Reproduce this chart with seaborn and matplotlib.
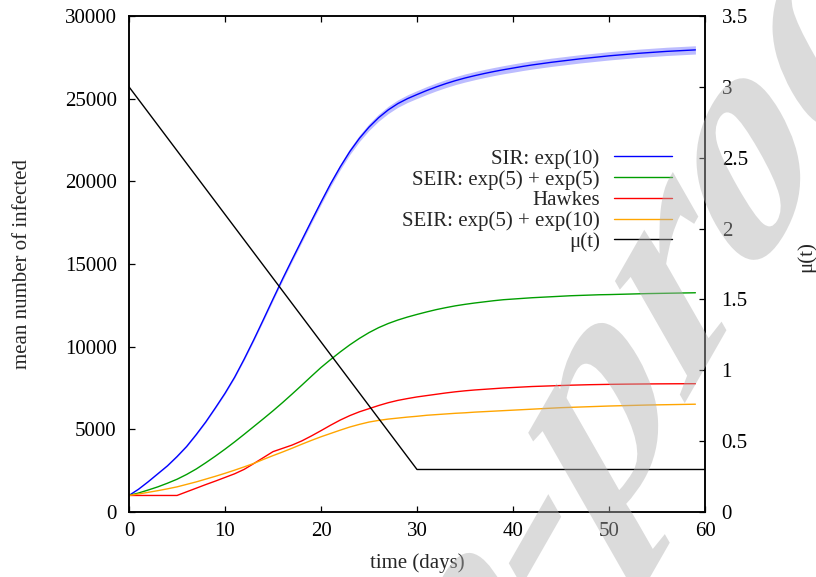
import numpy as np
import pandas as pd
import matplotlib
matplotlib.use("Agg")
import matplotlib.pyplot as plt
import seaborn as sns
from matplotlib.textpath import TextPath
from matplotlib.font_manager import FontProperties
from matplotlib.patches import PathPatch
from matplotlib.transforms import Affine2D
from matplotlib.ticker import FuncFormatter

# ---------------- data ----------------
days = list(range(60))

sir = [1000, 1380, 1830, 2310, 2790, 3350, 3960, 4680, 5450, 6300,
       7180, 8150, 9250, 10420, 11640, 12880, 14100, 15280, 16440, 17600,
       18740, 19850, 20870, 21800, 22600, 23280, 23850, 24320, 24700, 25000,
       25250, 25490, 25710, 25910, 26090, 26250, 26390, 26520, 26640, 26750,
       26850, 26950, 27040, 27120, 27200, 27270, 27340, 27410, 27470, 27530,
       27590, 27640, 27690, 27740, 27780, 27820, 27860, 27890, 27920, 27950]

sir_halfwidth = [0, 5, 10, 15, 20, 25, 30, 35, 40, 45,
                 50, 60, 70, 80, 90, 100, 110, 120, 130, 140,
                 150, 160, 170, 180, 190, 200, 210, 220, 225, 230,
                 235, 240, 240, 240, 240, 245, 245, 245, 245, 245,
                 250, 250, 250, 250, 250, 250, 250, 250, 250, 250,
                 250, 250, 250, 250, 250, 250, 250, 250, 250, 250]

seir55 = [1000, 1150, 1330, 1520, 1740, 1980, 2270, 2600, 2980, 3380,
          3800, 4240, 4700, 5170, 5640, 6120, 6620, 7140, 7670, 8210,
          8740, 9220, 9680, 10110, 10500, 10850, 11150, 11400, 11610, 11790,
          11950, 12100, 12240, 12360, 12470, 12560, 12640, 12710, 12780, 12840,
          12880, 12920, 12960, 12990, 13020, 13050, 13080, 13100, 13120, 13140,
          13150, 13165, 13180, 13195, 13210, 13220, 13230, 13240, 13250, 13260]

hawkes = [1000, 1000, 1000, 1000, 1000, 1000, 1220, 1440, 1660, 1870,
          2090, 2310, 2580, 2930, 3290, 3650, 3850, 4050, 4300, 4600,
          4920, 5250, 5560, 5830, 6060, 6250, 6440, 6610, 6750, 6860,
          6960, 7040, 7120, 7200, 7270, 7330, 7380, 7420, 7460, 7500,
          7530, 7560, 7590, 7610, 7630, 7650, 7670, 7685, 7700, 7710,
          7720, 7728, 7735, 7740, 7745, 7750, 7753, 7756, 7758, 7760]

seir510 = [1000, 1090, 1190, 1290, 1400, 1520, 1670, 1820, 1990, 2160,
           2340, 2530, 2730, 2940, 3180, 3410, 3630, 3860, 4100, 4330,
           4550, 4750, 4950, 5140, 5300, 5440, 5540, 5620, 5680, 5740,
           5790, 5850, 5890, 5930, 5970, 6000, 6040, 6070, 6100, 6130,
           6160, 6190, 6220, 6250, 6280, 6310, 6330, 6350, 6370, 6390,
           6410, 6425, 6440, 6455, 6470, 6480, 6490, 6500, 6510, 6520]

mu_days = [0, 30, 60]
mu_vals = [3.0, 0.3, 0.3]

labels = ["SIR: exp(10)", "SEIR: exp(5) + exp(5)", "Hawkes", "SEIR: exp(5) + exp(10)"]
colors = ["#0000ff", "#009e00", "#ff0000", "#ffa500"]
mu_label = "\u03bc(t)"

x_ticks = [0, 10, 20, 30, 40, 50, 60]
y_ticks = [0, 5000, 10000, 15000, 20000, 25000, 30000]
y2_ticks = [0, 0.5, 1, 1.5, 2, 2.5, 3, 3.5]

# ---------------- style ----------------
sns.set_style("ticks")
plt.rcParams["font.family"] = ["Liberation Serif", "DejaVu Serif"]
plt.rcParams["axes.linewidth"] = 1.1

W, H = 816, 577
fig = plt.figure(figsize=(W / 100, H / 100), dpi=100)
L, R, B, T = 129, 705, 512, 16
ax = fig.add_axes([L / W, 1 - B / H, (R - L) / W, (B - T) / H])
ax2 = ax.twinx()

df = pd.DataFrame({
    "day": days * 4,
    "value": sir + seir55 + hawkes + seir510,
    "model": [lab for lab in labels for _ in days],
})

lo = [v - h for v, h in zip(sir, sir_halfwidth)]
hi = [v + h for v, h in zip(sir, sir_halfwidth)]
ax.fill_between(days, lo, hi, color="#bcbcff", lw=0, zorder=1)

sns.lineplot(data=df, x="day", y="value", hue="model", hue_order=labels,
             palette=dict(zip(labels, colors)), ax=ax, lw=1.0, legend=False,
             zorder=2)
sns.lineplot(x=mu_days, y=mu_vals, ax=ax2, color="black", lw=1.0, zorder=3)

ax.set_xlim(0, 60)
ax.set_ylim(0, 30000)
ax2.set_ylim(0, 3.5)
ax.set_xticks(x_ticks)
ax.set_yticks(y_ticks)
ax2.set_yticks(y2_ticks)
ax2.yaxis.set_major_formatter(FuncFormatter(lambda v, p: "%g" % v))

tl = 4.3
ax.tick_params(axis="x", direction="in", length=tl, width=0.9, top=True,
               labelsize=15, pad=7.5, colors="black")
ax.tick_params(axis="y", direction="in", length=tl, width=0.9, right=False,
               labelsize=15, pad=8.8, colors="black")
ax2.tick_params(axis="y", direction="in", length=tl, width=0.9, labelsize=15,
                pad=12, colors="black")
for a in (ax, ax2):
    for s in a.spines.values():
        s.set_visible(True)
        s.set_linewidth(1.1)
        s.set_color("black")

ax.set_xlabel("time (days)", fontsize=15)
ax.xaxis.label.set_va("center")
ax.xaxis.set_label_coords(0.5, (B - 563.5) / (B - T))
ax.set_ylabel("mean number of infected", fontsize=15)
ax.yaxis.label.set_va("center")
ax.yaxis.set_label_coords((23 - L) / (R - L), 0.5)
ax2.set_ylabel(mu_label, fontsize=15, rotation=90)
ax2.yaxis.label.set_va("center")
ax2.yaxis.set_label_coords((806 - L) / (R - L), (B - 257) / (B - T))

handles = list(ax.lines[:4]) + [ax2.lines[0]]
ax2.legend(handles, labels + [mu_label], loc="upper right",
           bbox_to_anchor=(672 / W, 1 - 149 / H), bbox_transform=fig.transFigure,
           frameon=False, markerfirst=False, handlelength=2.8,
           handletextpad=0.67, labelspacing=0.05, borderpad=0,
           borderaxespad=0, fontsize=15)

# ---------------- watermark ----------------
wm_text = "Journal Pre-proof"
fp = FontProperties(family="Liberation Serif", weight="bold")
S = 215.0
full = TextPath((0, 0), "Journal Pre-", size=S, prop=fp)
dash = TextPath((0, 0), "-", size=S, prop=fp)
de = dash.get_extents()
hx = full.get_extents().x1 - (de.x1 - de.x0) / 2
hy = (de.y0 + de.y1) / 2
path = TextPath((0, 0), wm_text, size=S, prop=fp)
tr = (Affine2D().translate(-hx, -hy).rotate_deg(45).scale(1, 1.75)
      .translate(535, H - 540))
patch = PathPatch(path, transform=tr, facecolor="#b0b0b0", edgecolor="none",
                  alpha=0.45, zorder=10)
fig.add_artist(patch)

fig.savefig("out.png", dpi=100)
